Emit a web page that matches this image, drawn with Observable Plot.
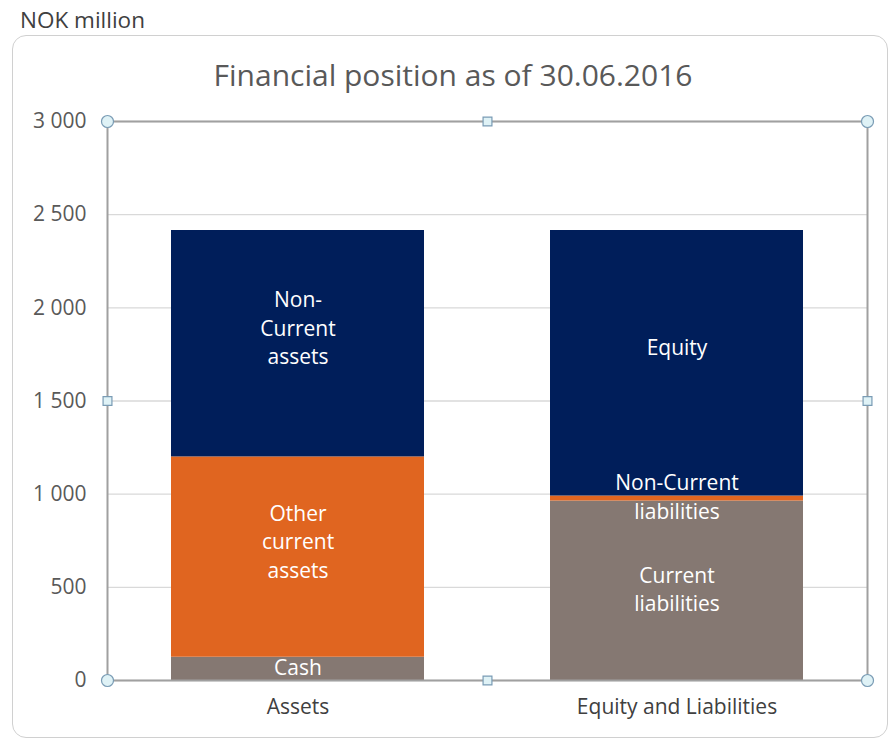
<!DOCTYPE html>
<html>
<head>
<meta charset="utf-8">
<script src="https://cdn.jsdelivr.net/npm/d3@7"></script>
<script src="https://cdn.jsdelivr.net/npm/@observablehq/plot@0.6"></script>
<style>
  html, body { margin: 0; padding: 0; background: #fff; }
  #wrap { position: relative; width: 893px; height: 741px; font-family: "Open Sans", sans-serif; overflow: hidden; }
  #unit { position: absolute; left: 20px; top: 4px; font-size: 22.5px; line-height: 31px; color: #404040; }
  #box { position: absolute; left: 12px; top: 35px; width: 874px; height: 701px; border: 1.5px solid #d0d0d0; border-radius: 14px; }
  #title { position: absolute; left: 0; top: 54px; width: 906px; text-align: center; font-size: 30px; line-height: 41px; color: #595959; }
  #chart { position: absolute; left: 0; top: 0; }
</style>
</head>
<body>
<div id="wrap">
  <div id="box"></div>
  <div id="unit">NOK million</div>
  <div id="title">Financial position as of 30.06.2016</div>
  <div id="chart"></div>
</div>
<script>
const categories = ["Assets", "Equity and Liabilities"];
const assetParts = ["Cash", "Other current assets", "Non-Current assets"];
const assetValues = [125, 1075, 1215];
const assetLabels = ["Cash", "Other\ncurrent\nassets", "Non-\nCurrent\nassets"];
const liabParts = ["Current liabilities", "Non-Current liabilities", "Equity"];
const liabValues = [963, 27, 1425];
const liabLabels = ["Current\nliabilities", "Non-Current\nliabilities", "Equity"];
const yTicks = [0, 500, 1000, 1500, 2000, 2500, 3000];
const partColors = ["#857872", "#e06520", "#001e5a"];

const rows = [
  ...assetParts.map((p, i) => ({cat: categories[0], part: p, order: i, value: assetValues[i], label: assetLabels[i]})),
  ...liabParts.map((p, i) => ({cat: categories[1], part: p, order: i, value: liabValues[i], label: liabLabels[i]}))
];

const fmt = d => d3.format(",")(d).replace(/,/g, " ");
const handleStyle = {fill: "#dff2f6", stroke: "#7a9cb5", strokeWidth: 1.2};
const corners = ["top-left", "top-right", "bottom-left", "bottom-right"];
const mids = ["top", "bottom", "left", "right"];
const labelStyle = {fill: "white", fontSize: 21, lineHeight: 1.36};
const stackOpts = {x: "cat", y: "value", z: "order", order: "order", text: "label"};
const isBig = d => d.value >= 1000;

const chart = Plot.plot({
  width: 893,
  height: 741,
  marginLeft: 107,
  marginRight: 26,
  marginTop: 121,
  marginBottom: 61,
  style: {fontFamily: "Open Sans, sans-serif", background: "transparent", overflow: "visible"},
  x: {domain: categories, paddingInner: 0.333, paddingOuter: 0.1667, label: null},
  y: {domain: [0, 3000], label: null},
  marks: [
    Plot.gridY(yTicks, {stroke: "#d9d9d9", strokeOpacity: 1, strokeWidth: 1.3}),
    Plot.barY(rows, {x: "cat", y: "value", z: "order", order: "order", fill: d => partColors[d.order]}),
    Plot.text(rows, Plot.filter(isBig, Plot.stackY({...stackOpts, ...labelStyle, dy: -17}))),
    Plot.text(rows, Plot.filter(d => !isBig(d), Plot.stackY({...stackOpts, ...labelStyle, dy: -3}))),
    Plot.frame({stroke: "#a0a0a0", strokeWidth: 2}),
    Plot.axisY({ticks: yTicks, tickFormat: fmt, tickSize: 0, tickPadding: 21, fontSize: 21, fill: "#595959"}),
    Plot.axisX({tickSize: 0, tickPadding: 19, fontSize: 21, fill: "#404040"}),
    ...corners.map(a => Plot.dot([0], {frameAnchor: a, r: 6, symbol: "circle", ...handleStyle})),
    ...mids.map(a => Plot.dot([0], {frameAnchor: a, r: 5, symbol: "square", ...handleStyle}))
  ]
});
document.getElementById("chart").appendChild(chart);
</script>
</body>
</html>
